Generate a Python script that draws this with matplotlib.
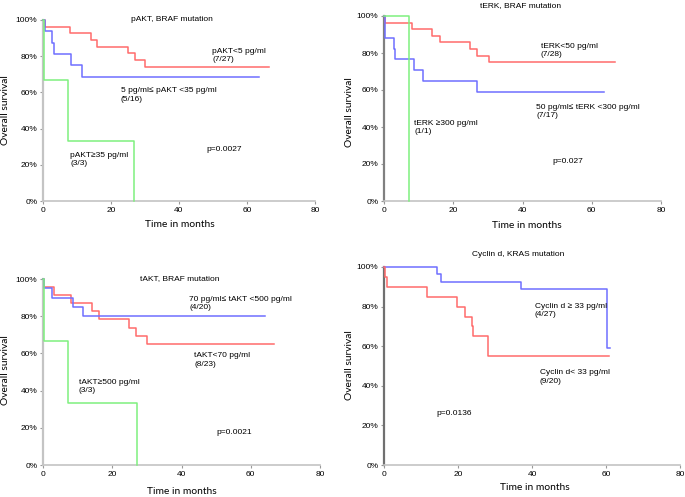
import matplotlib.pyplot as plt

# ---- data (months, survival %) ----
# pAKT, BRAF mutation
pakt_low_t = [0, 0.5, 8, 14, 16, 25, 27, 30, 66.6]
pakt_low_s = [100, 96.3, 92.6, 88.9, 85.2, 81.5, 77.8, 74.1, 74.1]
pakt_mid_t = [0, 0.5, 2.6, 3.1, 8.3, 11.4, 63.4]
pakt_mid_s = [100, 93.75, 87.5, 81.25, 75, 68.75, 68.75]
pakt_high_t = [0, 0.2, 7.3, 26.9]
pakt_high_s = [100, 66.7, 33.3, 0]

# tERK, BRAF mutation
terk_low_t = [0, 0.3, 8.2, 14.0, 16.3, 24.9, 26.8, 30.2, 66.7]
terk_low_s = [100, 96.4, 92.9, 89.3, 85.7, 82.1, 78.6, 75.0, 75.0]
terk_mid_t = [0, 0.4, 2.8, 3.1, 8.6, 11.4, 27.0, 63.4]
terk_mid_s = [100, 88.2, 82.4, 76.5, 70.6, 64.7, 58.8, 58.8]
terk_high_t = [0, 7.2, 7.2]
terk_high_s = [100, 0, 0]

# tAKT, BRAF mutation
takt_mid_t = [0, 0.3, 2.6, 8.7, 11.5, 64.1]
takt_mid_s = [100, 95, 90, 85, 80, 80]
takt_low_t = [0, 0.3, 3.1, 8.2, 14.1, 16.1, 24.7, 26.9, 30.0, 66.7]
takt_low_s = [100, 95.7, 91.3, 87.0, 82.6, 78.3, 73.9, 69.6, 65.2, 65.2]
takt_high_t = [0, 0.2, 7.2, 27.1]
takt_high_s = [100, 66.7, 33.3, 0]

# Cyclin d, KRAS mutation
cyc_high_t = [0, 14.3, 15.5, 36.9, 60.3, 61.2]
cyc_high_s = [100, 96.3, 92.6, 88.9, 59.3, 59.3]
cyc_low_t = [0, 0.3, 0.7, 11.6, 19.8, 21.8, 23.9, 24.1, 28.0, 28.2, 60.9]
cyc_low_s = [100, 95, 90, 85, 80, 75, 70, 65, 60, 55, 55]

RED = '#ff6b6b'
BLUE = '#6f6fff'
GREEN = '#7ef07e'

W, H = 685, 497
fig = plt.figure(figsize=(W / 100, H / 100), dpi=100)
plt.rcParams['font.family'] = ['Liberation Sans', 'DejaVu Sans']

FS = 6.0


def make_ax(left, right, top, bottom, left_color):
    ax = fig.add_axes([left / W, (H - bottom) / H, (right - left) / W, (bottom - top) / H])
    ax.set_xlim(0, 80)
    ax.set_ylim(0, 100)
    ax.set_xticks([0, 20, 40, 60, 80])
    ax.set_yticks([0, 20, 40, 60, 80, 100])
    ax.set_yticklabels(['0%', '20%', '40%', '60%', '80%', '100%'])
    for s in ['top', 'right']:
        ax.spines[s].set_visible(False)
    ax.spines['bottom'].set_color('#c4c4c4')
    ax.spines['bottom'].set_linewidth(1.2)
    ax.spines['left'].set_color(left_color)
    ax.spines['left'].set_linewidth(1.6)
    ax.tick_params(labelsize=FS, length=2, width=0.8, color='#999999', pad=2)
    ax.set_facecolor('none')
    return ax


def curve(ax, t, s, color):
    ax.step(t, s, where='post', color=color, lw=1.1, clip_on=False, zorder=3)


def label(ax, x, y, txt):
    ax.text(x, y, txt, fontsize=FS, ha='left', va='center', linespacing=1.25)


def axis_labels(ax, xl, yl):
    fig.text(xl[0] / W, 1 - xl[1] / H, 'Time in months', fontsize=7.4,
             family=['Lato', 'DejaVu Sans'], ha='center', va='center')
    fig.text(yl[0] / W, 1 - yl[1] / H, 'Overall survival', fontsize=7.4,
             family=['Lato', 'DejaVu Sans'], ha='center', va='center', rotation=90)


# panel 1
ax1 = make_ax(43, 315, 20, 201, '#c4c4c4')
curve(ax1, pakt_low_t, pakt_low_s, RED)
curve(ax1, pakt_mid_t, pakt_mid_s, BLUE)
curve(ax1, pakt_high_t, pakt_high_s, GREEN)
label(ax1, 25.9, 100.5, 'pAKT, BRAF mutation')
label(ax1, 49.8, 80.5, 'pAKT<5 pg/ml\n(7/27)')
label(ax1, 22.9, 58.5, '5 pg/ml\u2264 pAKT <35 pg/ml\n(5/16)')
label(ax1, 8.0, 23.0, 'pAKT\u226535 pg/ml\n(3/3)')
label(ax1, 48.0, 28.4, 'p=0.0027')
axis_labels(ax1, (180, 224), (6, 110))

# panel 2
ax2 = make_ax(384, 661, 16, 201, '#808080')
curve(ax2, terk_low_t, terk_low_s, RED)
curve(ax2, terk_mid_t, terk_mid_s, BLUE)
curve(ax2, terk_high_t, terk_high_s, GREEN)
label(ax2, 27.6, 105.8, 'tERK, BRAF mutation')
label(ax2, 45.3, 81.5, 'tERK<50 pg/ml\n(7/28)')
label(ax2, 43.9, 48.2, '50 pg/ml\u2264 tERK <300 pg/ml\n(7/17)')
label(ax2, 8.75, 39.6, 'tERK \u2265300 pg/ml\n(1/1)')
label(ax2, 48.75, 21.2, 'p=0.027')
axis_labels(ax2, (527, 225), (349, 112))

# panel 3
ax3 = make_ax(43, 320, 279, 465, '#c4c4c4')
curve(ax3, takt_low_t, takt_low_s, RED)
curve(ax3, takt_mid_t, takt_mid_s, BLUE)
curve(ax3, takt_high_t, takt_high_s, GREEN)
label(ax3, 28.1, 100.5, 'tAKT, BRAF mutation')
label(ax3, 42.3, 86.9, '70 pg/ml\u2264 tAKT <500 pg/ml\n(4/20)')
label(ax3, 43.75, 56.5, 'tAKT<70 pg/ml\n(8/23)')
label(ax3, 10.3, 42.1, 'tAKT\u2265500 pg/ml\n(3/3)')
label(ax3, 50.0, 17.4, 'p=0.0021')
axis_labels(ax3, (182, 491), (6, 370))

# panel 4
ax4 = make_ax(384, 680, 267, 465, '#707070')
curve(ax4, cyc_high_t, cyc_high_s, BLUE)
curve(ax4, cyc_low_t, cyc_low_s, RED)
label(ax4, 23.9, 106.4, 'Cyclin d, KRAS mutation')
label(ax4, 40.8, 78.0, 'Cyclin d \u2265 33 pg/ml\n(4/27)')
label(ax4, 42.1, 44.5, 'Cyclin d< 33 pg/ml\n(9/20)')
label(ax4, 14.2, 26.1, 'p=0.0136')
axis_labels(ax4, (535, 488), (349, 365))

fig.savefig('out.png', dpi=100)
